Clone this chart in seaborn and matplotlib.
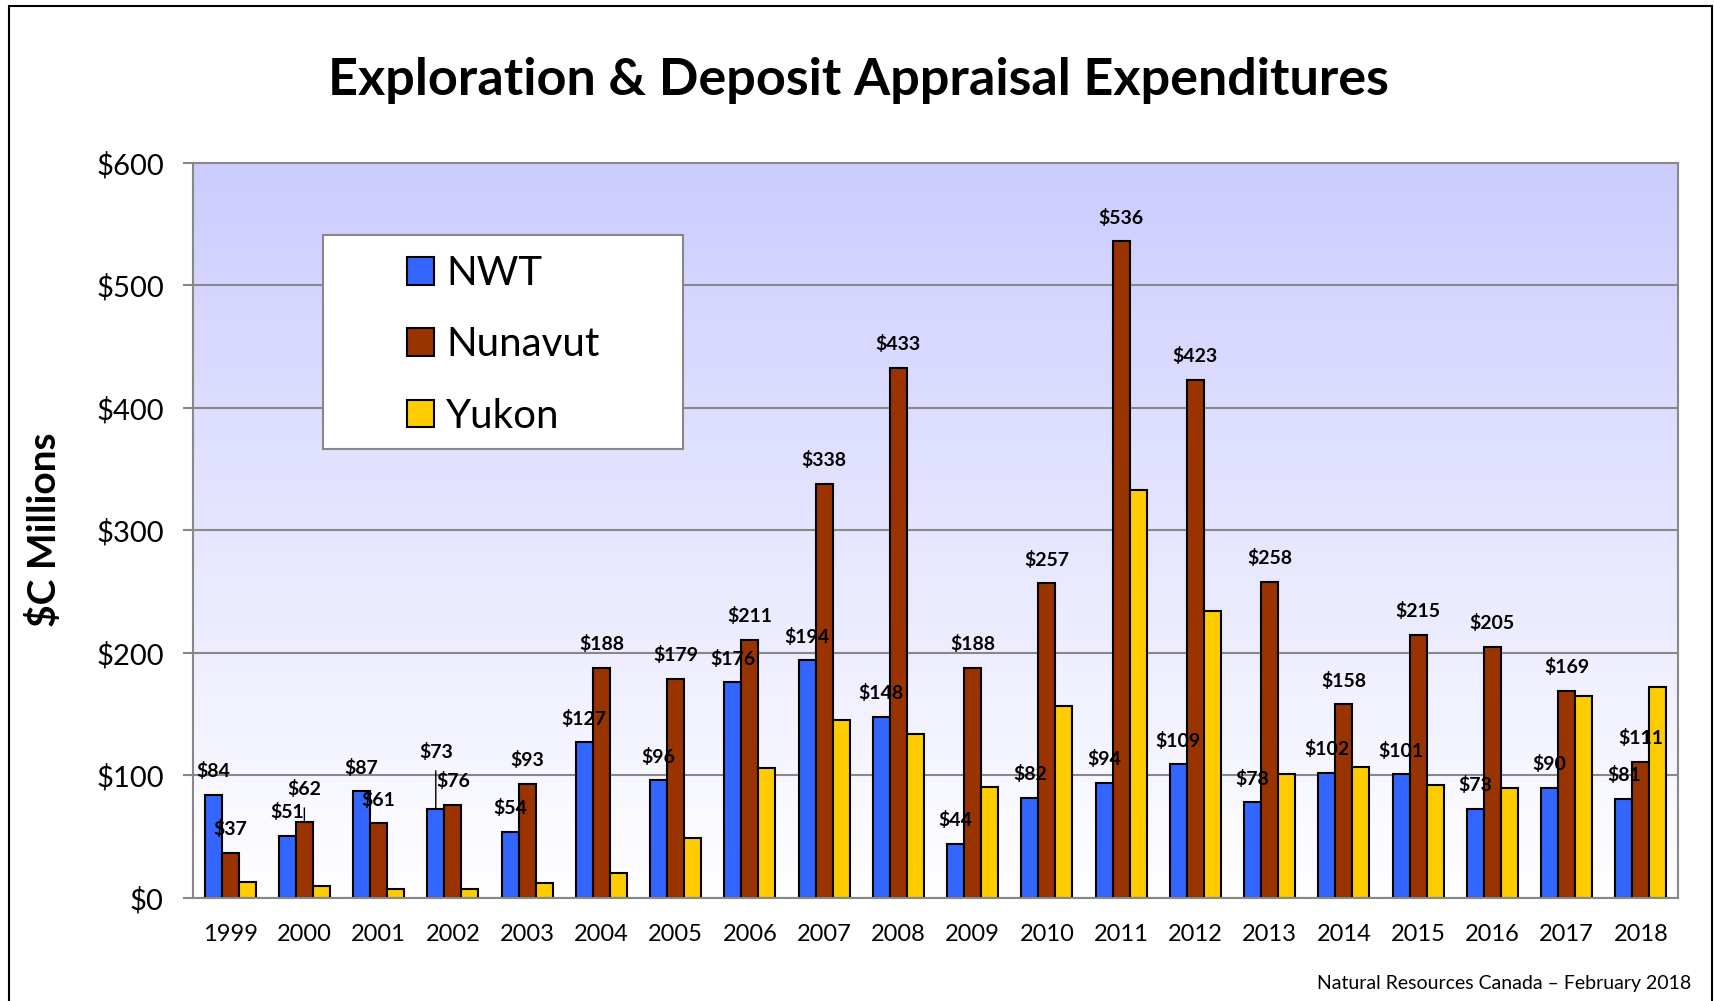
import numpy as np
import pandas as pd
import seaborn as sns
import matplotlib.pyplot as plt
from matplotlib.patches import Patch, Rectangle
from matplotlib.colors import LinearSegmentedColormap

# data ($C millions)
years = [str(y) for y in range(1999, 2019)]
nwt = [84, 51, 87, 73, 54, 127, 96, 176, 194, 148, 44, 82, 94, 109, 78, 102, 101, 73, 90, 81]
nunavut = [37, 62, 61, 76, 93, 188, 179, 211, 338, 433, 188, 257, 536, 423, 258, 158, 215, 205, 169, 111]
yukon = [13, 10, 7, 7, 12, 20, 49, 106, 145, 134, 91, 157, 333, 234, 101, 107, 92, 90, 165, 172]
regions = ["NWT", "Nunavut", "Yukon"]
colors = ["#3366FF", "#993300", "#FFCC00"]

df = pd.DataFrame({
    "year": years * 3,
    "region": np.repeat(regions, len(years)),
    "value": nwt + nunavut + yukon,
})

sns.set_style("white")
plt.rcParams["font.family"] = ["Lato", "DejaVu Sans"]
plt.rcParams["text.color"] = "black"
plt.rcParams["xtick.labelcolor"] = "black"
plt.rcParams["ytick.labelcolor"] = "black"

fig = plt.figure(figsize=(17.14, 10.01), dpi=100)
ax = fig.add_axes([0.1126, 0.1029, 0.8664, 0.7343])

# gradient plot area background
grad = LinearSegmentedColormap.from_list("bg", ["#FFFFFF", "#CCCCFF"])
ax.imshow(np.linspace(0, 1, 256).reshape(-1, 1), cmap=grad, origin="lower",
          extent=[0, 1, 0, 1], transform=ax.transAxes, aspect="auto", zorder=0)

sns.barplot(data=df, x="year", y="value", hue="region", order=years,
            hue_order=regions, palette=colors, saturation=1, width=0.69,
            edgecolor="black", linewidth=1.5, errorbar=None, legend=False,
            ax=ax, zorder=2)

ax.set_xlim(-0.5, len(years) - 0.5)
ax.set_ylim(0, 600)
ax.set_yticks(range(0, 601, 100))
ax.set_yticklabels([f"${v}" for v in range(0, 601, 100)], fontsize=21)
ax.set_xticks(range(len(years)))
ax.set_xticklabels(years, fontsize=17)
ax.set_xticks(np.arange(-0.5, len(years)), minor=True)
ax.tick_params(axis="x", which="major", length=0, pad=19)
ax.tick_params(axis="x", which="minor", length=6, width=1.5, color="#888888", direction="out")
ax.tick_params(axis="y", length=7, width=1.5, color="#888888", direction="out", pad=14, left=True)
ax.set_xlabel("")
ax.set_ylabel("")
ax.grid(axis="y", color="#888888", linewidth=1.5, zorder=1)
ax.set_axisbelow(True)
for s in ax.spines.values():
    s.set_color("#888888")
    s.set_linewidth(1.5)
    s.set_visible(True)

# value labels on NWT and Nunavut bars
special = {("2002", "NWT"): 41, ("2000", "Nunavut"): 24}
for cont, reg, vals in zip(ax.containers[:2], regions[:2], [nwt, nunavut]):
    for bar, yr, v in zip(cont, years, vals):
        x = bar.get_x() + bar.get_width() / 2
        off = special.get((yr, reg), 17)
        kw = {}
        if (yr, reg) in special:
            kw["arrowprops"] = dict(arrowstyle="-", color="black", lw=1, shrinkA=5, shrinkB=0)
        ax.annotate(f"${v}", (x, bar.get_height()), xytext=(0, off),
                    textcoords="offset points", ha="center", va="center",
                    fontsize=14, fontweight="bold", zorder=5, **kw)

# legend with its own white box
ax.add_patch(Rectangle((0.0875, 0.611), 0.2425, 0.291, transform=ax.transAxes,
                       facecolor="white", edgecolor="#888888", lw=1.5, zorder=4))
handles = [Patch(facecolor=c, edgecolor="black", lw=1.5) for c in colors]
leg = ax.legend(handles, regions, loc="center left", bbox_to_anchor=(0.144, 0.7525),
                frameon=False, fontsize=29, handlelength=0.68, handleheight=0.68,
                handletextpad=0.3, labelspacing=0.85, borderpad=0, borderaxespad=0)
leg.set_zorder(6)

fig.text(0.501, 1 - 80 / 1001, "Exploration & Deposit Appraisal Expenditures",
         ha="center", va="center", fontsize=37.5, fontweight="bold")
fig.text(44 / 1714, 1 - 530 / 1001, "$C Millions", rotation=90,
         ha="center", va="center", fontsize=28, fontweight="bold")
fig.text(1691 / 1714, 1 - 983 / 1001, "Natural Resources Canada \u2013 February 2018",
         ha="right", va="center", fontsize=14)

# outer frame
fig.add_artist(Rectangle((9 / 1714, -0.05), (1712 - 9) / 1714, 1.05 - 6 / 1001,
                         transform=fig.transFigure, fill=False, edgecolor="black", lw=1.5))

fig.savefig("out.png", dpi=100)
